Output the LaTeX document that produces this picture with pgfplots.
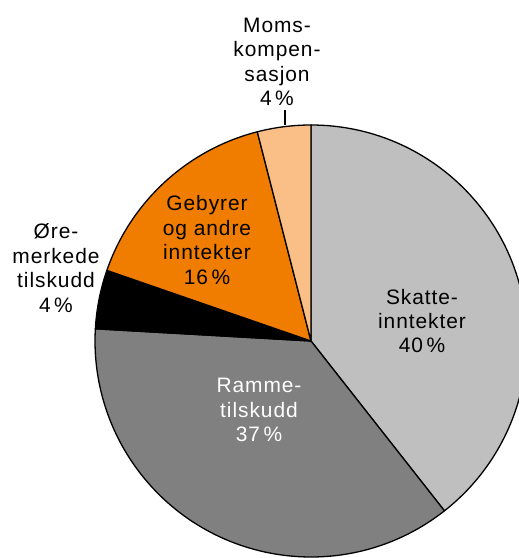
\documentclass[border=0pt]{standalone}
\usepackage{pgfplots}
\pgfplotsset{compat=1.18}
\usepackage{pgfplotstable}
\usepackage{fontspec}
\setmainfont{Liberation Sans}
\newfontfamily\lblfont[LetterSpace=4.5]{Liberation Sans}
\definecolor{skatt}{HTML}{BFBFBF}
\definecolor{ramme}{HTML}{808080}
\definecolor{ore}{HTML}{000000}
\definecolor{gebyr}{HTML}{F07D00}
\definecolor{moms}{HTML}{F9BF87}
\pgfplotstableread[col sep=comma]{
name,value,color
Skatteinntekter,39.4,skatt
Rammetilskudd,36.5,ramme
Oremerkede,4.4,ore
Gebyrer,15.7,gebyr
Momskompensasjon,4.0,moms
}\piedata
\begin{document}
\begin{tikzpicture}
\begin{axis}[hide axis, scale only axis, anchor=south west, at={(0,0)},
  x=1bp, y=1bp, xmin=0, xmax=519, ymin=0, ymax=558, clip=false]
\def\cumangle{90}
\pgfplotsforeachungrouped \i in {0,...,4} {
  \pgfplotstablegetelem{\i}{value}\of\piedata \let\val\pgfplotsretval
  \pgfplotstablegetelem{\i}{color}\of\piedata \let\col\pgfplotsretval
  \pgfmathsetmacro\endangle{\cumangle-3.6*\val}
  \edef\temp{\noexpand\filldraw[fill=\col, draw=black, line width=1.3bp, line join=round] (axis cs:311,217) -- ++(\cumangle:216bp) arc[start angle=\cumangle, end angle=\endangle, radius=216bp] -- cycle;}
  \temp
  \global\let\cumangle\endangle
}
\tikzset{lbl/.style={align=center, font=\lblfont\fontsize{21}{24.5}\selectfont, inner sep=0pt}}
\node[lbl] at (axis cs:277,496) {Moms-\\kompen-\\sasjon\\4\,\%};
\draw[line width=1.2bp] (axis cs:285,448) -- (axis cs:285,433);
\node[lbl] at (axis cs:56,290) {Øre-\\merkede\\tilskudd\\4\,\%};
\node[lbl] at (axis cs:207,318) {Gebyrer\\og andre\\inntekter\\16\,\%};
\node[lbl] at (axis cs:422,237) {Skatte-\\inntekter\\40\,\%};
\node[lbl, text=white] at (axis cs:259,148) {Ramme-\\tilskudd\\37\,\%};
\end{axis}
\pgfresetboundingbox
\useasboundingbox (0,0) rectangle (519bp,558bp);
\end{tikzpicture}
\end{document}
